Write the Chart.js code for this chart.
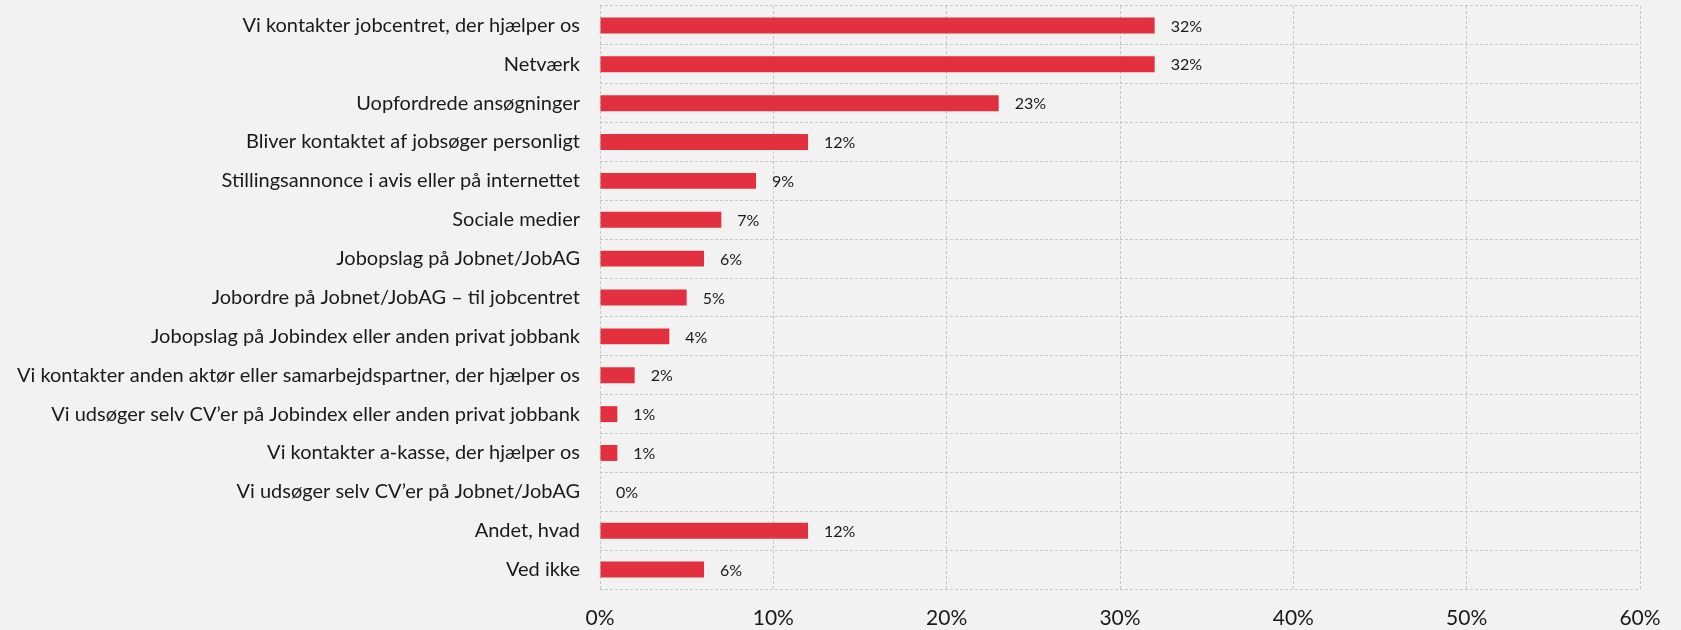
<!DOCTYPE html>
<html>
<head>
<meta charset="utf-8">
<script src="https://cdn.jsdelivr.net/npm/chart.js@4/dist/chart.umd.min.js"></script>
<style>
  html, body { margin: 0; padding: 0; background: #F2F2F2; }
  #wrap { width: 1681px; height: 630px; position: relative; }
</style>
</head>
<body>
<div id="wrap"><canvas id="c" width="1681" height="630"></canvas></div>
<script>
const categories = [
  "Vi kontakter jobcentret, der hjælper os",
  "Netværk",
  "Uopfordrede ansøgninger",
  "Bliver kontaktet af jobsøger personligt",
  "Stillingsannonce i avis eller på internettet",
  "Sociale medier",
  "Jobopslag på Jobnet/JobAG",
  "Jobordre på Jobnet/JobAG – til jobcentret",
  "Jobopslag på Jobindex eller anden privat jobbank",
  "Vi kontakter anden aktør eller samarbejdspartner, der hjælper os",
  "Vi udsøger selv CV’er på Jobindex eller anden privat jobbank",
  "Vi kontakter a-kasse, der hjælper os",
  "Vi udsøger selv CV’er på Jobnet/JobAG",
  "Andet, hvad",
  "Ved ikke"
];
const values = [32, 32, 23, 12, 9, 7, 6, 5, 4, 2, 1, 1, 0, 12, 6];
const xTicks = [0, 10, 20, 30, 40, 50, 60];

const FONT = "Lato, 'Open Sans', sans-serif";

const valueLabels = {
  id: 'valueLabels',
  afterDatasetsDraw(chart) {
    const ctx = chart.ctx;
    const meta = chart.getDatasetMeta(0);
    ctx.save();
    ctx.font = "16px " + FONT;
    ctx.fillStyle = "#1a1a1a";
    ctx.textAlign = "left";
    ctx.textBaseline = "middle";
    meta.data.forEach((bar, i) => {
      ctx.fillText(values[i] + "%", bar.x + 16, bar.y + 1);
    });
    ctx.restore();
  }
};

new Chart(document.getElementById('c'), {
  type: 'bar',
  data: {
    labels: categories,
    datasets: [{
      data: values,
      backgroundColor: '#E3303F',
      borderWidth: 0,
      barPercentage: 0.82,
      categoryPercentage: 0.5
    }]
  },
  plugins: [valueLabels],
  options: {
    indexAxis: 'y',
    responsive: false,
    animation: false,
    layout: { padding: { top: 6, right: 41, left: 0, bottom: 0 } },
    plugins: { legend: { display: false }, tooltip: { enabled: false } },
    scales: {
      x: {
        min: 0, max: 60,
        afterBuildTicks(scale) { scale.ticks = xTicks.map(v => ({ value: v })); },
        afterFit(scale) { scale.height = 41; },
        ticks: {
          callback: v => v + '%',
          font: { size: 21, family: FONT },
          color: '#1a1a1a',
          padding: 17,
          maxRotation: 0
        },
        grid: { color: '#C8C8C8', lineWidth: 1, drawTicks: false },
        border: { display: false, dash: [3, 2] }
      },
      y: {
        afterFit(scale) { scale.width = 600; scale.paddingTop = 0; scale.paddingBottom = 0; },
        ticks: {
          font: { size: 20, family: FONT },
          color: '#1a1a1a',
          padding: 20,
          autoSkip: false
        },
        grid: { color: '#C8C8C8', lineWidth: 1, drawTicks: false, offset: true },
        border: { display: false, dash: [3, 2] }
      }
    }
  }
});
</script>
</body>
</html>
